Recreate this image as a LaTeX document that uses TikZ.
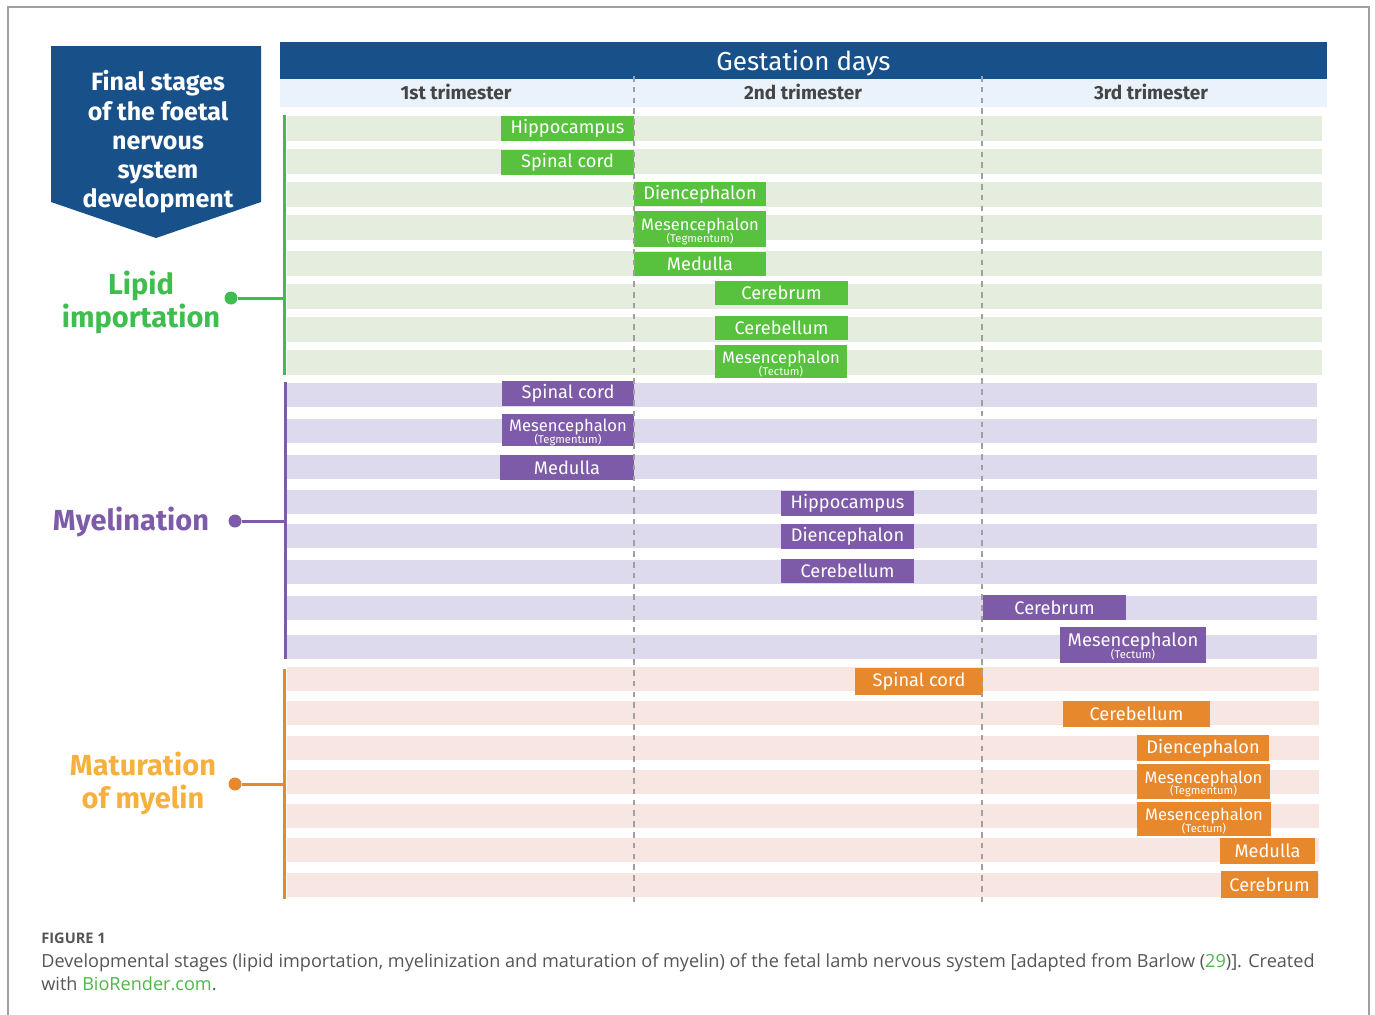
\documentclass[tikz,border=0pt]{standalone}
\usepackage{fontspec}
\setmainfont{Fira Sans}
\newfontfamily\capfont{Open Sans}
\usepackage{tikz}
\usetikzlibrary{calc,positioning}
\definecolor{hdrblue}{HTML}{18518A}
\definecolor{subblue}{HTML}{EAF2FB}
\definecolor{lipgreen}{HTML}{58C23E}
\definecolor{liptext}{HTML}{3EBE4E}
\definecolor{liprow}{HTML}{E5EDDF}
\definecolor{myelpurple}{HTML}{7D5BA8}
\definecolor{myelrow}{HTML}{DDDAEE}
\definecolor{matorange}{HTML}{E8882D}
\definecolor{mattext}{HTML}{F6B03E}
\definecolor{matrow}{HTML}{F8E6E3}
\definecolor{dashgrey}{HTML}{A0A0A0}
\definecolor{trigrey}{HTML}{454545}
\definecolor{capgrey}{HTML}{555555}
\definecolor{capgreen}{HTML}{4DB848}
\newcommand{\sublbl}[1]{{\fontsize{5.6}{5}\selectfont #1}}
\newcommand{\mesen}[2][8.3]{\rule{0pt}{8.5pt}{\fontsize{#1}{8}\selectfont Mesencephalon}\\[-2.2pt]\sublbl{(#2)}}

\begin{document}
\begin{tikzpicture}[x=0.5pt,y=-0.5pt,
  barbox/.style={rectangle, inner sep=0pt, text=white, align=center, font=\fontsize{9.1}{8}\selectfont},
  grplbl/.style={align=center, font=\bfseries\fontsize{14.5}{16.5}\selectfont},
  captxt/.style={anchor=base west, inner sep=0pt, text=capgrey, font=\capfont\fontsize{9.05}{10}\selectfont}]
\tikzstyle{grpdot}=[circle, inner sep=0pt, minimum size=6.5pt]
\tikzstyle{trihead}=[text=trigrey, font=\bfseries\fontsize{9.5}{10}\selectfont]
\tikzstyle{trisep}=[dashgrey, line width=0.8pt, dash pattern=on 2.8pt off 2.6pt]
\useasboundingbox (0,0) rectangle (1375,1014);
\draw[gray!75, line width=0.6pt] (8,1030) -- (8,7) -- (1369,7) -- (1369,1030);
% title arrow
\fill[hdrblue] (51,46) -- (261,46) -- (261,202) -- (156,238) -- (51,202) -- cycle;
\node[text=white, align=center, font=\bfseries\fontsize{12.5}{14.6}\selectfont] (title) at (158,142) {Final stages\\of the foetal\\nervous\\system\\development};
% header
\node[fill=hdrblue, minimum width=523.5pt, minimum height=18.5pt, inner sep=0pt, text depth=0pt, text=white, font=\fontsize{13}{14}\selectfont] (gest) at (803.5,60.5) {Gestation days};
\fill[subblue] (280,79) rectangle (1327,107);
\node[trihead] (t1) at (456,92) {1st trimester};
\node[trihead] (t2) at (803,92) {2nd trimester};
\node[trihead] (t3) at (1151,92) {3rd trimester};
% rows
\foreach \y in {128,161,194,227,263,296,329,362}{\fill[liprow] (287,\y) ++(0,-12.5) rectangle ++(1035,25);}
\foreach \y in {394.5,431,467,501.5,536,571.5,607.5,646.5}{\fill[myelrow] (287,\y) ++(0,-12) rectangle ++(1030,24);}
\foreach \y in {679,712.5,747.5,781.5,815.5,850,885}{\fill[matrow] (287,\y) ++(0,-12) rectangle ++(1032,24);}
% bars
\foreach \n/\xa/\xb/\ya/\yb/\t in {lhip/501/634/116/141/Hippocampus, lspi/501/634/150/175/Spinal cord,
  ldie/634/766/182/206/Diencephalon, lmeg/634/766/211/247/{\mesen{Tegmentum}},
  lmed/634/766/252/276/Medulla, lcer/715/848/281/305/Cerebrum, lcbl/715/848/316/340/Cerebellum,
  lmet/715/847/345/378/{\mesen{Tectum}}}
  {\node[barbox, fill=lipgreen, minimum width={(\xb-\xa)*0.5pt}, minimum height={(\yb-\ya)*0.5pt}] (\n) at ({(\xa+\xb)/2},{(\ya+\yb)/2}) {\t};}
\foreach \n/\xa/\xb/\ya/\yb/\t in {mspi/502/634/381/406/Spinal cord, mmeg/502/634/414/446/{\mesen{Tegmentum}},
  mmed/500/634/455/480/Medulla, mhip/781/914/491/516/Hippocampus, mdie/781/914/524/549/Diencephalon,
  mcbl/781/914/559/583/Cerebellum, mcer/983/1126/595/620/Cerebrum,
  mmet/1060/1206/627/663/{\mesen[9.2]{Tectum}}}
  {\node[barbox, fill=myelpurple, minimum width={(\xb-\xa)*0.5pt}, minimum height={(\yb-\ya)*0.5pt}] (\n) at ({(\xa+\xb)/2},{(\ya+\yb)/2}) {\t};}
\foreach \n/\xa/\xb/\ya/\yb/\t in {aspi/855/983/668/695/Spinal cord, acbl/1063/1210/701/727/Cerebellum,
  adie/1137/1269/735/761/Diencephalon, ameg/1137/1270/764/799/{\mesen{Tegmentum}},
  amet/1137/1271/802/836/{\mesen{Tectum}}, amed/1220/1315/838/864/Medulla,
  acer/1221/1318/871/898/Cerebrum}
  {\node[barbox, fill=matorange, minimum width={(\xb-\xa)*0.5pt}, minimum height={(\yb-\ya)*0.5pt}] (\n) at ({(\xa+\xb)/2},{(\ya+\yb)/2}) {\t};}
% trimester separators
\coordinate (s1top) at (634,76); \coordinate (s1bot) at (634,905);
\coordinate (s2top) at (982,76); \coordinate (s2bot) at (982,905);
\draw[trisep] (s1top) -- (s1bot);
\draw[trisep] (s2top) -- (s2bot);
% groups
\coordinate (ltop) at (284,115); \coordinate (lbot) at (284,375);
\coordinate (mtop) at (285,382); \coordinate (mbot) at (285,659);
\coordinate (atop) at (284,669); \coordinate (abot) at (284,899);
\draw[liptext, line width=1.5pt] (ltop) -- (lbot);
\draw[myelpurple, line width=1.5pt] (mtop) -- (mbot);
\draw[matorange, line width=1.5pt] (atop) -- (abot);
\node[grpdot, fill=liptext] (ldot) at (231,298) {};
\node[grpdot, fill=myelpurple] (mdot) at (235,521) {};
\node[grpdot, fill=matorange] (adot) at (235,784) {};
\draw[liptext, line width=1.5pt] (ldot) -- (ldot -| ltop);
\draw[myelpurple, line width=1.5pt] (mdot) -- (mdot -| mtop);
\draw[matorange, line width=1.5pt] (adot) -- (adot -| atop);
\node[grplbl, text=liptext] (lipid) at (141,302) {Lipid\\importation};
\node[grplbl, text=myelpurple] (myel) at (131,522) {Myelination};
\node[grplbl, text=mattext] (matur) at (143,783) {Maturation\\of myelin};
% caption
\node[captxt, font=\capfont\bfseries\fontsize{7.3}{9}\selectfont] (fig) at (41,943) {FIGURE 1};
\node[captxt] (cap1) at (41,967) {Developmental stages (lipid importation, myelinization and maturation of myelin) of the fetal lamb nervous system [adapted from Barlow (\textcolor{capgreen}{29})]. Created};
\node[captxt] (cap2) at (41,990) {with \textcolor{capgreen}{BioRender.com}.};
\end{tikzpicture}
\end{document}
